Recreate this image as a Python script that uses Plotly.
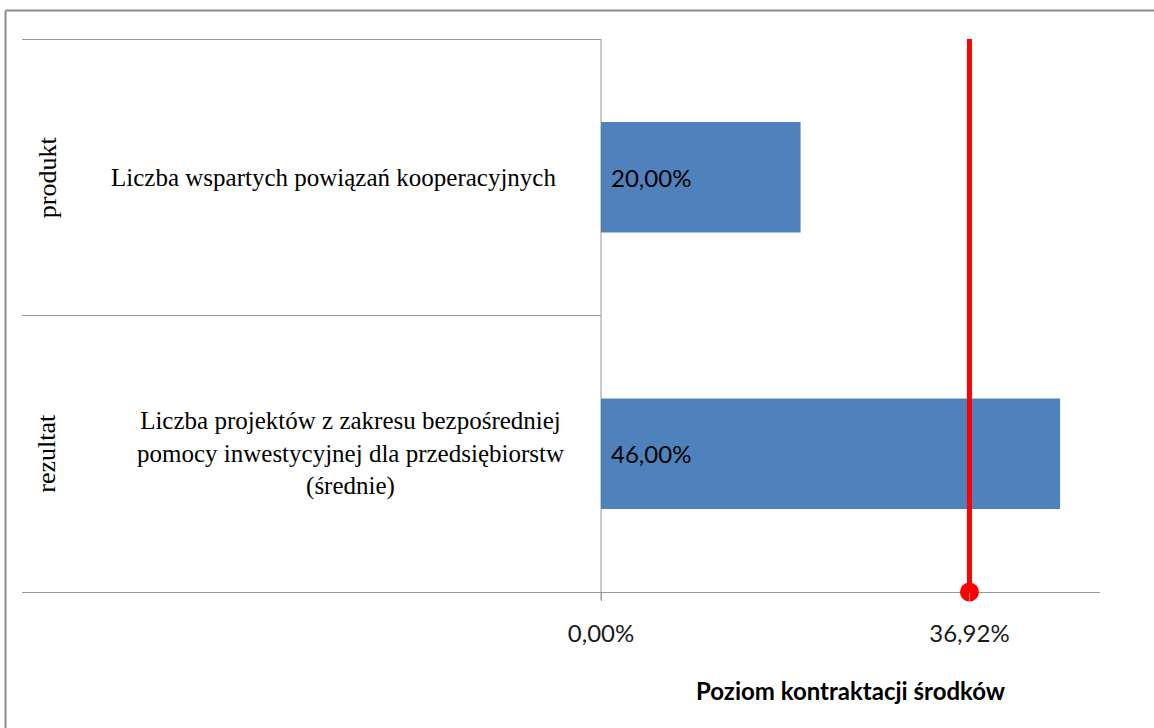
import plotly.graph_objects as go

groups = ["produkt", "rezultat"]
indicators = [
    "Liczba wspartych powiązań kooperacyjnych",
    "Liczba projektów z zakresu bezpośredniej<br>pomocy inwestycyjnej dla przedsiębiorstw<br>(średnie)",
]
values = [20.00, 46.00]
value_labels = ["20,00%", "46,00%"]
contract_level = 36.92
tick_vals = [0.0, 36.92]
tick_text = ["0,00%", "36,92%"]
x_title = "Poziom kontraktacji środków"

W, H = 1154, 728
L, R, T, B = 601, 54, 39, 136
pw, ph = W - L - R, H - T - B

def px_x(px):
    return (px - L) / pw

def px_y(py):
    return (H - B - py) / ph

cats = [0, 1]

fig = go.Figure()
fig.add_trace(go.Bar(
    y=cats, x=values, orientation="h", width=0.4,
    marker=dict(color="#4f81bd", line=dict(width=0)),
    hoverinfo="skip", showlegend=False,
))
fig.add_trace(go.Scatter(
    x=[contract_level, contract_level], y=[0, 1], yaxis="y2",
    mode="lines", cliponaxis=False,
    line=dict(color="#ff0000", width=5),
    showlegend=False, hoverinfo="skip",
))
fig.add_trace(go.Scatter(
    x=[contract_level], y=[0], yaxis="y2",
    mode="markers", cliponaxis=False,
    marker=dict(color="#ff0000", size=19, opacity=1, line=dict(width=0)),
    showlegend=False, hoverinfo="skip",
))

shapes = []
gray = "#999999"
# outer frame
shapes.append(dict(type="line", xref="paper", yref="paper", x0=px_x(5.5), x1=px_x(1200), y0=px_y(10.5), y1=px_y(10.5), line=dict(color="#8c8c8c", width=2)))
shapes.append(dict(type="line", xref="paper", yref="paper", x0=px_x(5.5), x1=px_x(5.5), y0=px_y(10.5), y1=px_y(800), line=dict(color="#8c8c8c", width=2)))
# table lines
shapes.append(dict(type="line", xref="paper", yref="paper", x0=px_x(22), x1=px_x(601), y0=px_y(39.5), y1=px_y(39.5), line=dict(color=gray, width=1)))
shapes.append(dict(type="line", xref="paper", yref="paper", x0=px_x(22), x1=px_x(601), y0=px_y(315.5), y1=px_y(315.5), line=dict(color=gray, width=1)))
shapes.append(dict(type="line", xref="paper", yref="paper", x0=px_x(22), x1=px_x(1100), y0=px_y(592.5), y1=px_y(592.5), line=dict(color=gray, width=1), layer="below"))
shapes.append(dict(type="line", xref="paper", yref="paper", x0=px_x(601), x1=px_x(601), y0=px_y(39), y1=px_y(600), line=dict(color=gray, width=1), layer="below"))

annotations = []
label_centers = [333, 350]
for i, (g, ind) in enumerate(zip(groups, indicators)):
    annotations.append(dict(
        xref="paper", yref="y", x=px_x(47), y=i, text=g, textangle=-90,
        showarrow=False, font=dict(family="Liberation Serif", size=26, color="#000000"),
        xanchor="center", yanchor="middle",
    ))
    annotations.append(dict(
        xref="paper", yref="y", x=px_x(label_centers[i]), y=i, text=ind,
        showarrow=False, align="center", xanchor="center", yanchor="middle",
        font=dict(family="Liberation Serif", size=25, color="#000000"),
    ))
    annotations.append(dict(
        xref="x", yref="y", x=0, y=i, text=value_labels[i], xshift=8,
        showarrow=False, xanchor="left", yanchor="middle",
        font=dict(family="Lato", size=24, color="#000000"),
    ))
annotations.append(dict(
    xref="paper", yref="paper", x=0.5, y=px_y(690), text="<b>" + x_title + "</b>",
    showarrow=False, xanchor="center", yanchor="middle",
    font=dict(family="Lato", size=24, color="#000000"),
))

fig.update_layout(
    width=W, height=H,
    margin=dict(l=L, r=R, t=T, b=B),
    paper_bgcolor="white", plot_bgcolor="white",
    xaxis=dict(range=[0, 50], showgrid=False, zeroline=False, showline=False,
               tickmode="array", tickvals=tick_vals, ticktext=tick_text,
               ticks="outside", ticklen=8, tickcolor=gray, tickwidth=1,
               ticklabelstandoff=12,
               tickfont=dict(family="Lato", size=24, color="#1a1a1a")),
    yaxis=dict(range=[1.5, -0.5], showgrid=False, zeroline=False, showline=False,
               showticklabels=False, ticks=""),
    yaxis2=dict(range=[0, 1], overlaying="y", visible=False),
    shapes=shapes, annotations=annotations,
)
fig.write_html("out.html", config={"displayModeBar": False},
               post_script="document.body.style.margin='0';")
